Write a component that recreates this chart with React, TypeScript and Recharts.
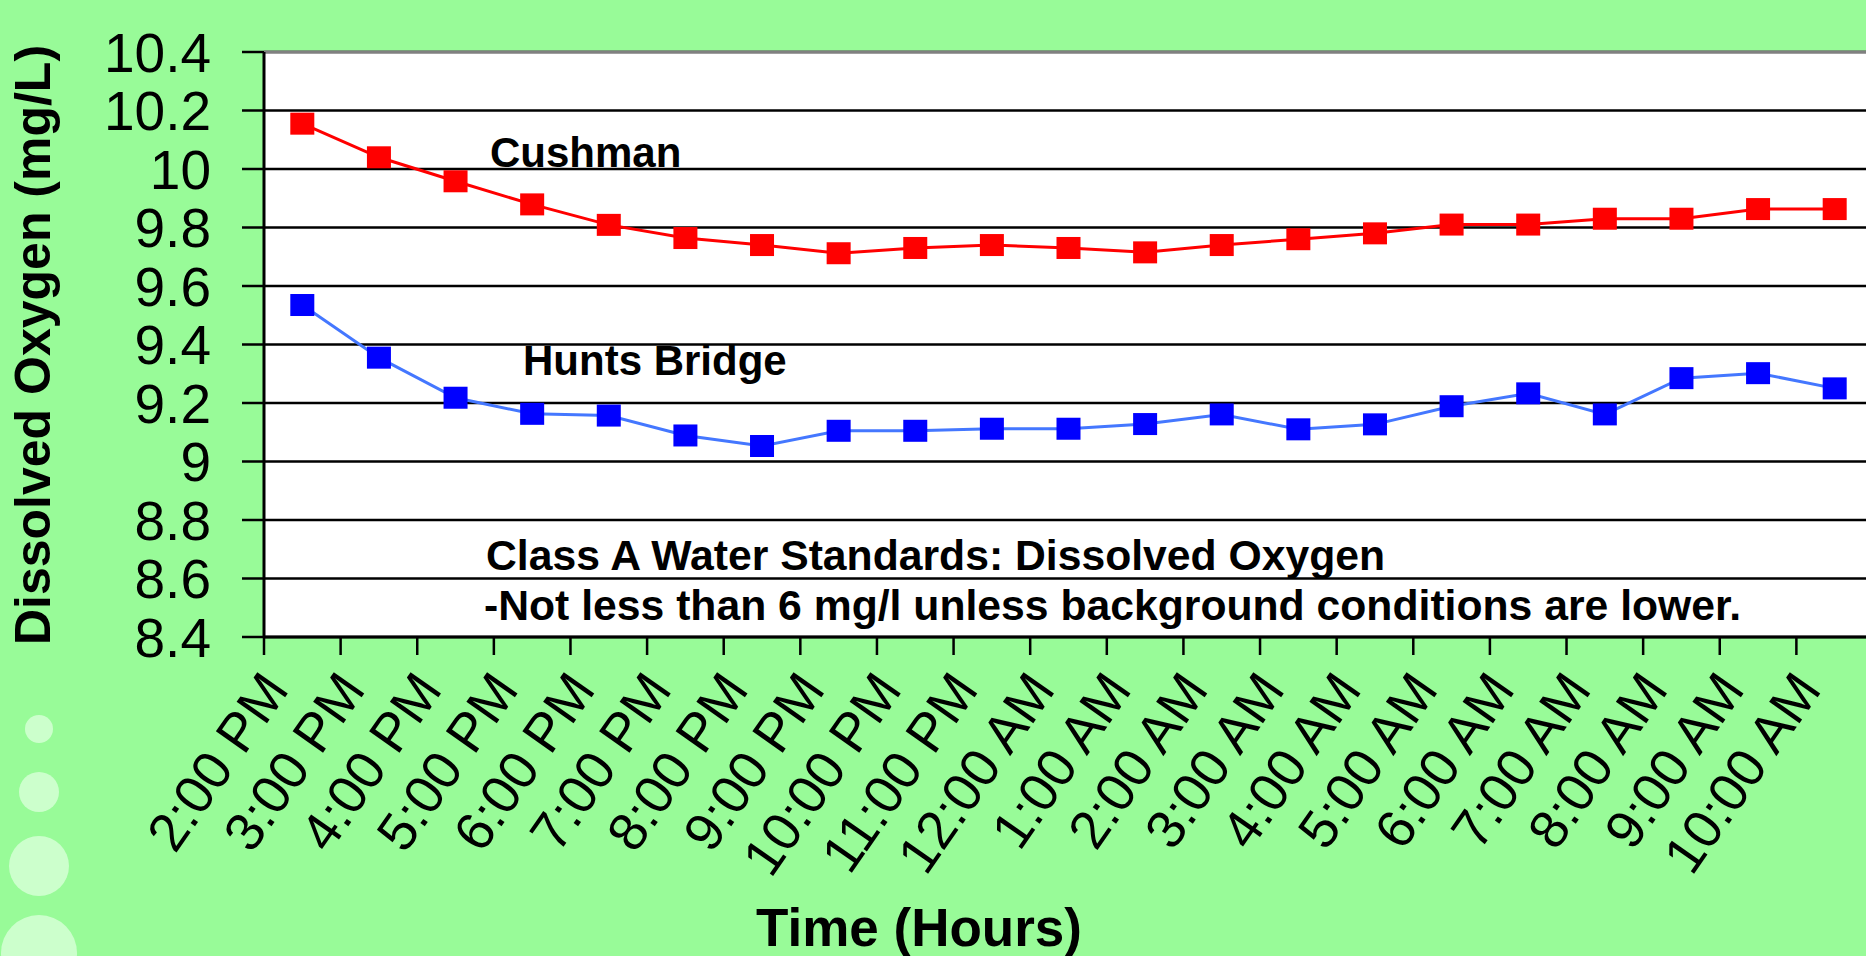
import React from "react";
import {
  LineChart,
  Line,
  XAxis,
  YAxis,
  CartesianGrid,
  ReferenceLine,
  Customized,
} from "recharts";

const hours = [
  "2:00 PM", "3:00 PM", "4:00 PM", "5:00 PM", "6:00 PM", "7:00 PM", "8:00 PM",
  "9:00 PM", "10:00 PM", "11:00 PM", "12:00 AM", "1:00 AM", "2:00 AM", "3:00 AM",
  "4:00 AM", "5:00 AM", "6:00 AM", "7:00 AM", "8:00 AM", "9:00 AM", "10:00 AM",
];

const cushman = [
  10.155, 10.04, 9.958, 9.879, 9.809, 9.764, 9.74, 9.712, 9.73, 9.74, 9.73,
  9.715, 9.74, 9.76, 9.78, 9.81, 9.81, 9.83, 9.83, 9.863, 9.863,
];

const huntsBridge = [
  9.535, 9.355, 9.218, 9.163, 9.157, 9.089, 9.053, 9.105, 9.105, 9.112, 9.112,
  9.128, 9.161, 9.11, 9.127, 9.189, 9.233, 9.161, 9.285, 9.302, 9.25,
];

const yTicks = [8.4, 8.6, 8.8, 9, 9.2, 9.4, 9.6, 9.8, 10, 10.2, 10.4];

const data = hours.map((hour, i) => ({
  hour,
  cushman: cushman[i],
  hunts: huntsBridge[i],
}));

const FONT = "'Liberation Sans', Arial, sans-serif";
const CHART_W = 1873;
const CHART_H = 956;
const Y_AXIS_W = 264;
const BAND = (CHART_W - Y_AXIS_W) / hours.length;

// pale bubbles in the lower left corner of the slide
const bubbles = [
  { cy: 729, r: 14 },
  { cy: 792, r: 20 },
  { cy: 866, r: 30 },
  { cy: 953, r: 38 },
];

function SquareDot(props: any) {
  const { cx, cy, fill } = props;
  if (cx == null || cy == null) return null;
  return <rect x={cx - 12} y={cy - 11} width={24} height={22} fill={fill} />;
}

function HourTick(props: any) {
  const { x, y, payload } = props;
  const left = x - BAND / 2;
  const tx = x - 12;
  const ty = y + 53;
  return (
    <g>
      <line x1={left} y1={y} x2={left} y2={y + 18} stroke="#000" strokeWidth={2.5} />
      <text
        x={tx}
        y={ty}
        transform={`rotate(-55, ${tx}, ${ty})`}
        textAnchor="end"
        fontSize={54}
        fill="#000"
        fontFamily={FONT}
      >
        {payload.value}
      </text>
    </g>
  );
}

function Decorations() {
  return (
    <g fontFamily={FONT} fill="#000">
      {bubbles.map((b, i) => (
        <circle key={i} cx={39} cy={b.cy} r={b.r} fill="#ccffcc" />
      ))}
      <text
        x={50}
        y={345}
        transform="rotate(-90, 50, 345)"
        textAnchor="middle"
        fontSize={50}
        fontWeight="bold"
      >
        Dissolved Oxygen (mg/L)
      </text>
      <text x={919} y={946} textAnchor="middle" fontSize={53} fontWeight="bold">
        Time (Hours)
      </text>
      <text x={490} y={167} fontSize={42} fontWeight="bold">Cushman</text>
      <text x={523} y={375} fontSize={42} fontWeight="bold">Hunts Bridge</text>
      <text x={486} y={570} fontSize={42.7} fontWeight="bold">
        Class A Water Standards: Dissolved Oxygen
      </text>
      <text x={484} y={620} fontSize={42.7} fontWeight="bold">
        -Not less than 6 mg/l unless background conditions are lower.
      </text>
    </g>
  );
}

export default function App() {
  return (
    <div
      style={{
        position: "fixed",
        left: 0,
        top: 0,
        width: 1866,
        height: 956,
        overflow: "hidden",
        background: "#98fb98",
      }}
    >
      <LineChart
        width={CHART_W}
        height={CHART_H}
        data={data}
        margin={{ top: 52, right: 0, bottom: 0, left: 0 }}
        style={{ fontFamily: FONT }}
      >
        <CartesianGrid vertical={false} stroke="#000" strokeWidth={2.5} fill="#fff" />
        <XAxis
          dataKey="hour"
          type="category"
          scale="band"
          interval={0}
          height={319}
          tickSize={0}
          tickMargin={0}
          tickLine={false}
          axisLine={{ stroke: "#000", strokeWidth: 3 }}
          tick={<HourTick />}
        />
        <YAxis
          type="number"
          domain={[8.4, 10.4]}
          ticks={yTicks}
          interval={0}
          width={Y_AXIS_W}
          tickSize={22}
          tickMargin={31}
          axisLine={{ stroke: "#000", strokeWidth: 3 }}
          tickLine={{ stroke: "#000", strokeWidth: 2.5 }}
          tick={{ fontSize: 55, fill: "#000", fontFamily: FONT }}
        />
        <ReferenceLine y={10.4} stroke="#808080" strokeWidth={3} />
        <Line
          type="linear"
          dataKey="hunts"
          stroke="#4477ff"
          strokeWidth={3}
          dot={<SquareDot fill="#0000ff" />}
          activeDot={false}
          isAnimationActive={false}
        />
        <Line
          type="linear"
          dataKey="cushman"
          stroke="#ff0000"
          strokeWidth={3}
          dot={<SquareDot fill="#ff0000" />}
          activeDot={false}
          isAnimationActive={false}
        />
        <Customized component={<Decorations />} />
      </LineChart>
    </div>
  );
}
